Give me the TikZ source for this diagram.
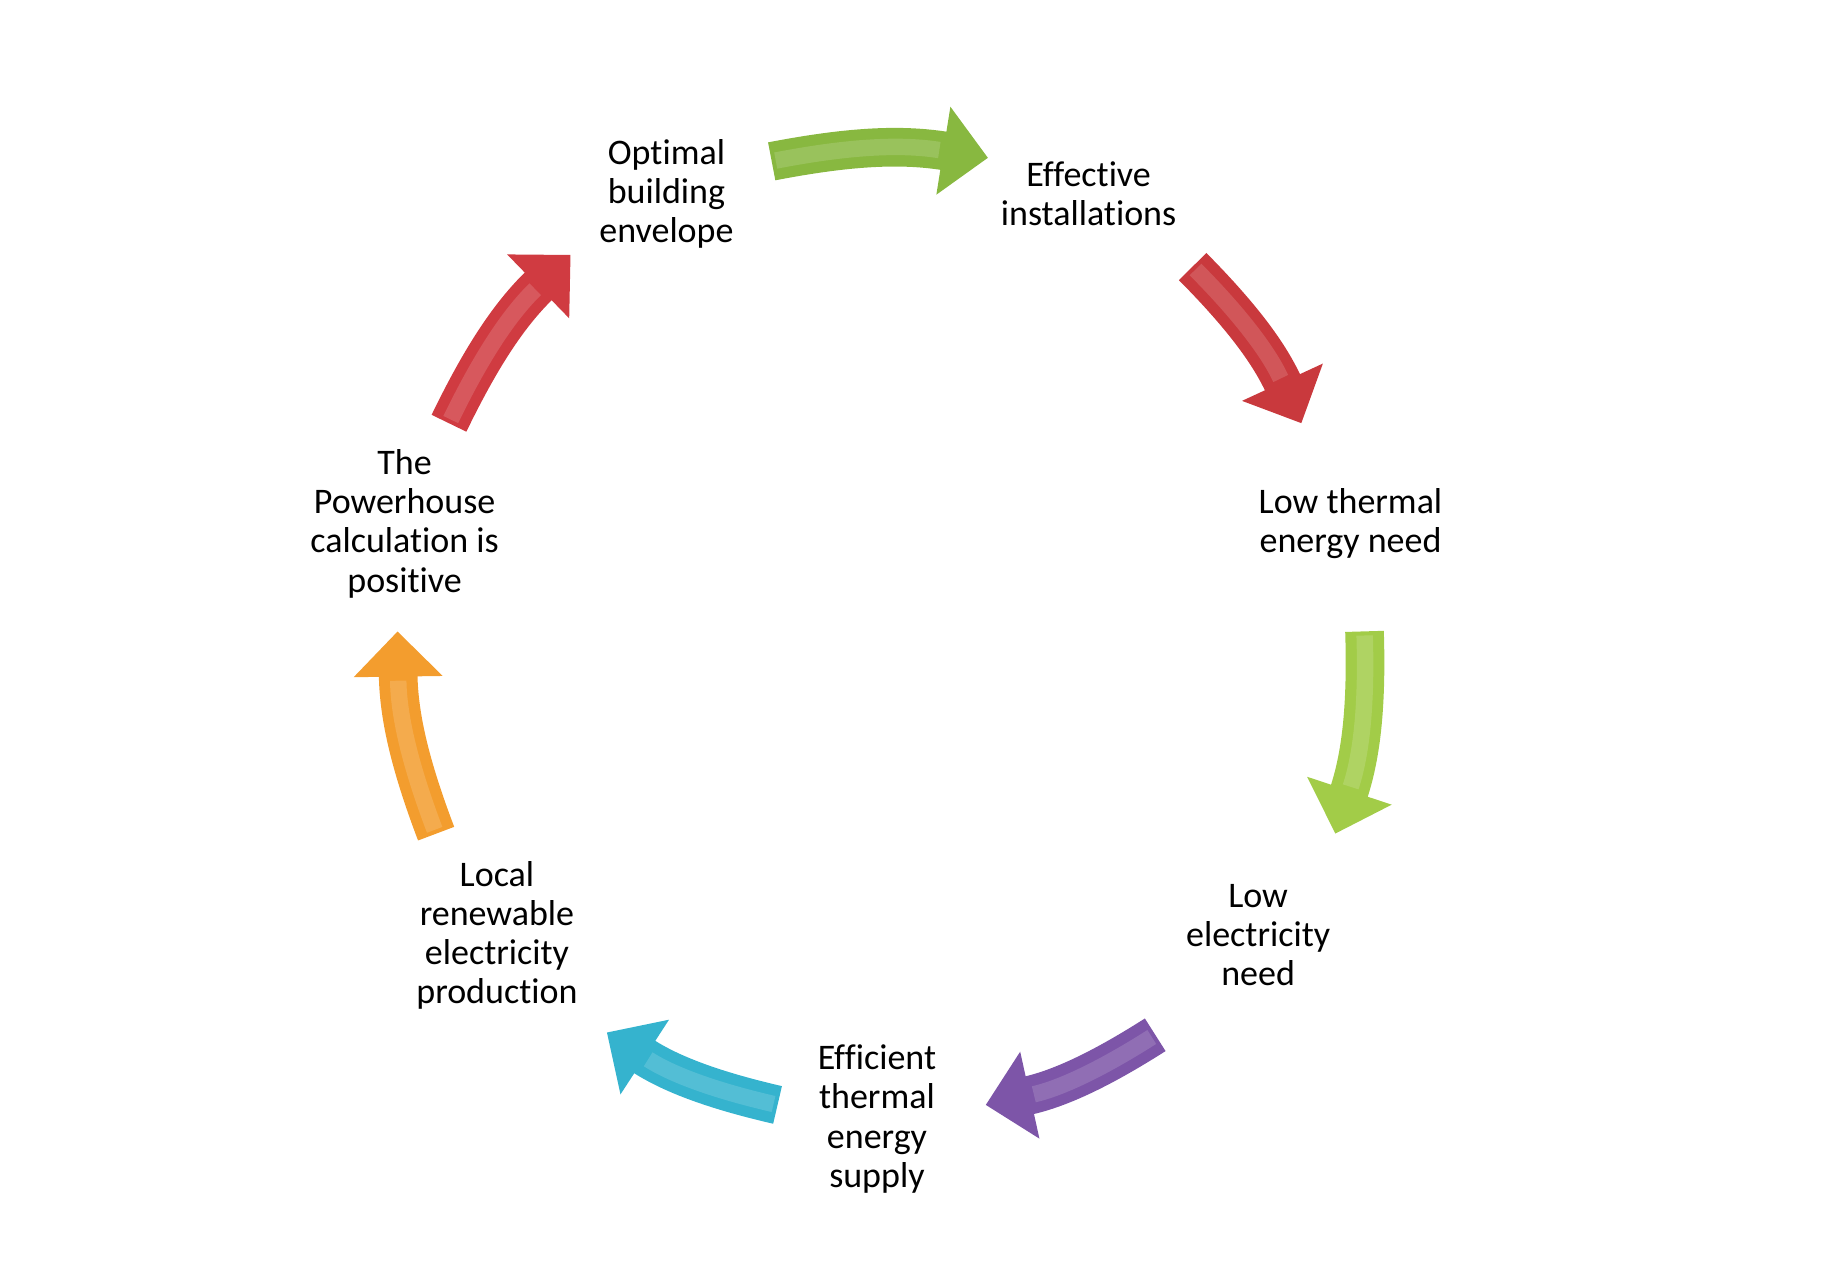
\documentclass[tikz,border=0pt]{standalone}
\usepackage{fontspec}
\setmainfont{Carlito}[Ligatures=NoCommon]
\usetikzlibrary{arrows.meta}

\definecolor{grnA}{HTML}{88B840}
\definecolor{redA}{HTML}{C9393D}
\definecolor{grnB}{HTML}{A2CC48}
\definecolor{purA}{HTML}{7D55A8}
\definecolor{cyaA}{HTML}{35B3CE}
\definecolor{oraA}{HTML}{F39D2E}
\definecolor{redB}{HTML}{D03B41}

\tikzset{
    label/.style={align=center, inner sep=0pt, font=\fontsize{8.76}{9.53}\selectfont},
    cycarrow/.style={line width=9.4pt, -{Triangle[length=11pt, width=21pt]},
        postaction={draw=white, opacity=0.15, line width=4pt, -, shorten >=12pt, shorten <=1pt}}
}

\begin{document}
\begin{tikzpicture}
    \useasboundingbox (0,0) rectangle (15.6,10.88);

    % Labels around the cycle
    \node[label] (opt) at (5.70, 9.22) {Optimal\\building\\envelope};
    \node[label] (eff) at (9.31, 9.22) {Effective\\installations};
    \node[label] (therm) at (11.55, 6.40) {Low thermal\\energy need};
    \node[label] (elec) at (10.76, 2.88) {Low\\electricity\\need};
    \node[label] (supply) at (7.50, 1.31) {Efficient\\thermal\\energy\\supply};
    \node[label] (local) at (4.25, 2.88) {Local\\renewable\\electricity\\production};
    \node[label] (power) at (3.46, 6.40) {The\\Powerhouse\\calculation is\\positive};

    % Arrow ends
    \coordinate (t1) at (6.60, 9.50);  \coordinate (h1) at (8.45, 9.53);
    \coordinate (t2) at (10.20, 8.60); \coordinate (h2) at (11.13, 7.26);
    \coordinate (t3) at (11.67, 5.48); \coordinate (h3) at (11.42, 3.75);
    \coordinate (t4) at (9.88, 2.03);  \coordinate (h4) at (8.43, 1.43);
    \coordinate (t5) at (6.65, 1.43);  \coordinate (h5) at (5.19, 2.05);
    \coordinate (t6) at (3.73, 3.75);  \coordinate (h6) at (3.40, 5.48);
    \coordinate (t7) at (3.84, 7.26);  \coordinate (h7) at (4.88, 8.70);

    % Curved arrows between the labels
    \foreach \a/\b/\col in {t1/h1/grnA, t2/h2/redA, t3/h3/grnB, t4/h4/purA,
                            t5/h5/cyaA, t6/h6/oraA, t7/h7/redB} {
        \draw[cycarrow, \col] (\a) to[bend left=10] (\b);
    }
\end{tikzpicture}
\end{document}
